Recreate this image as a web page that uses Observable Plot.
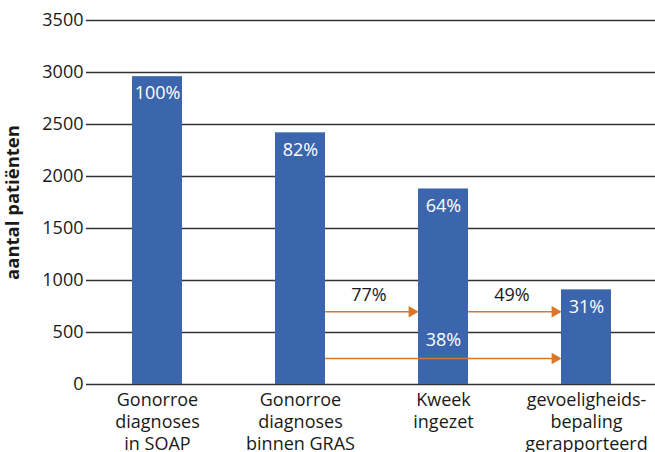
<!DOCTYPE html>
<html><head><meta charset="utf-8">
<script src="https://cdn.jsdelivr.net/npm/d3@7"></script>
<script src="https://cdn.jsdelivr.net/npm/@observablehq/plot@0.6"></script>
<style>body{margin:0;background:#fff}</style>
</head><body><div id="chart"></div>
<script>
const categories = ["Gonorroe\ndiagnoses\nin SOAP", "Gonorroe\ndiagnoses\nbinnen GRAS", "Kweek\ningezet", "gevoeligheids-\nbepaling\ngerapporteerd"];
const counts = [2960, 2420, 1880, 910];
const barPercents = ["100%", "82%", "64%", "31%"];
const yTicks = [0, 500, 1000, 1500, 2000, 2500, 3000, 3500];
const arrowFrom = [1, 2, 1];
const arrowTo = [2, 3, 3];
const arrowLevels = [700, 700, 250];
const arrowPercents = ["77%", "49%", "38%"];
const yLabel = "aantal patiënten";

const blue = "#3b66ad", orange = "#d9782b";
const W = 655, H = 452, ML = 86, MT = 20, MB = 68;
const xRange = [86, 658];
const step = (xRange[1] - xRange[0]) / categories.length;
const halfBar = 25;

const fromCats = arrowFrom.map(i => categories[i]);
const toCats = arrowTo.map(i => categories[i]);
const shortIdx = arrowFrom.map((f, i) => i).filter(i => arrowTo[i] - arrowFrom[i] === 1);
const longIdx = arrowFrom.map((f, i) => i).filter(i => arrowTo[i] - arrowFrom[i] === 2);

const chart = Plot.plot({
  width: W, height: H,
  marginLeft: ML, marginRight: 0, marginTop: MT, marginBottom: MB,
  style: {fontFamily: "'Open Sans', sans-serif", fontSize: "18px", color: "#1a1a1a", background: "#fff"},
  x: {domain: categories, range: xRange, paddingInner: 0.65, paddingOuter: 0.325, label: null},
  y: {domain: [0, 3500], label: null},
  marks: [
    Plot.ruleY(yTicks, {stroke: "#333", strokeWidth: 1.5}),
    Plot.axisY({ticks: yTicks, tickFormat: d3.format("d"), tickSize: 0, tickPadding: 3, fontSize: 18, label: null}),
    Plot.axisX({tickSize: 0, tickPadding: 6, fontSize: 18, lineHeight: 1.22, label: null}),
    Plot.text([yLabel], {frameAnchor: "left", textAnchor: "middle", text: d => d, rotate: -90, dx: -73, fontWeight: "bold", fontSize: 18.5}),
    Plot.barY(counts, {x: categories, y: counts, fill: blue}),
    Plot.text(counts, {x: categories, y: counts, text: barPercents, dy: 17, fill: "white", fontSize: 18}),
    Plot.arrow(arrowLevels, {x1: fromCats, x2: toCats, y: arrowLevels, stroke: orange, strokeWidth: 1.5, headLength: 0, insetStart: halfBar, insetEnd: halfBar + 8}),
    Plot.dot(arrowLevels, {x: toCats, y: arrowLevels, symbol: "triangle", r: 4.3, rotate: 90, fill: orange, stroke: null, dx: -halfBar - 6.5}),
    Plot.text(shortIdx, {x: i => fromCats[i], y: i => arrowLevels[i], text: i => arrowPercents[i], dx: step / 2 - 3, dy: -16, fill: "#1a1a1a", fontSize: 18}),
    Plot.text(longIdx, {x: i => fromCats[i], y: i => arrowLevels[i], text: i => arrowPercents[i], dx: step, dy: -18, fill: "white", fontSize: 18})
  ]
});
document.getElementById("chart").appendChild(chart);
</script>
</body></html>
